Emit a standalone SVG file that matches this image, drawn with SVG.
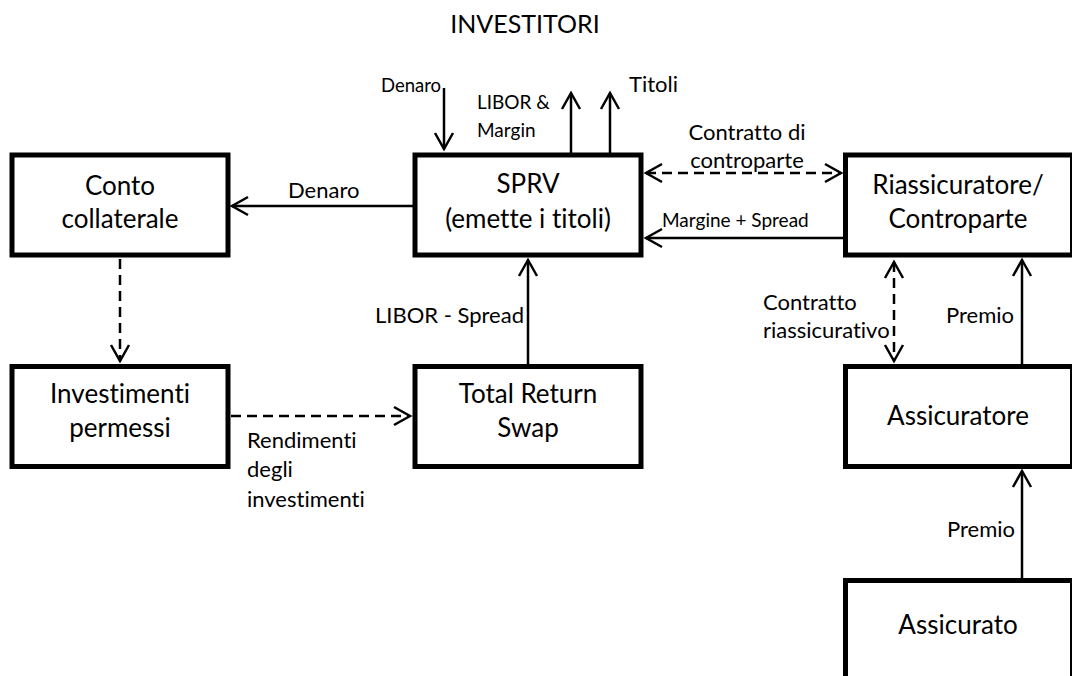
<svg xmlns="http://www.w3.org/2000/svg" width="1072" height="676" viewBox="0 0 1072 676">
<style>
.box{fill:#fff;stroke:#000;stroke-width:5}
.t{font-family:Lato,"Liberation Sans",sans-serif;fill:#000;font-variant-ligatures:none}
.big{font-size:26px;text-anchor:middle}
.ttl{font-size:25px;text-anchor:middle}
.med{font-size:22px}
.sm{font-size:19px}
.xs{font-size:18.5px}
.c{stroke:#000;stroke-width:2.5;fill:none}
.d{stroke-dasharray:10 6}
</style>
<defs>
<marker id="ah" markerUnits="userSpaceOnUse" markerWidth="30" markerHeight="30" refX="0" refY="0" viewBox="-20 -15 25 30" orient="auto-start-reverse" overflow="visible">
<path d="M-16,-9 L0,0 L-16,9" fill="none" stroke="#000" stroke-width="2.5" stroke-dasharray="none"/>
</marker>
</defs>
<text class="t ttl" x="525" y="33">INVESTITORI</text>
<g id="conto"><rect class="box" x="12" y="155" width="216" height="100"/><text class="t big" x="120" y="195">Conto</text><text class="t big" x="120" y="228">collaterale</text></g>
<g id="investimenti"><rect class="box" x="12" y="366.5" width="216" height="100"/><text class="t big" x="120" y="403">Investimenti</text><text class="t big" x="120" y="437">permessi</text></g>
<g id="sprv"><rect class="box" x="415" y="155" width="226" height="100"/><text class="t big" x="528" y="193">SPRV</text><text class="t big" x="528" y="228">(emette i titoli)</text></g>
<g id="trs"><rect class="box" x="415" y="366.5" width="226" height="100"/><text class="t big" x="528" y="403">Total Return</text><text class="t big" x="528" y="437">Swap</text></g>
<g id="riassicuratore"><rect class="box" x="845.5" y="155" width="227" height="100"/><text class="t big" x="958" y="194">Riassicuratore/</text><text class="t big" x="958" y="228">Controparte</text></g>
<g id="assicuratore"><rect class="box" x="845.5" y="366.5" width="227" height="100"/><text class="t big" x="958" y="425">Assicuratore</text></g>
<g id="assicurato"><rect class="box" x="845.5" y="580.5" width="227" height="200"/><text class="t big" x="958" y="634">Assicurato</text></g>
<g id="connectors">
<line class="c" x1="413" y1="206" x2="232" y2="206" marker-end="url(#ah)"/>
<text class="t med" x="288" y="198">Denaro</text>
<line class="c" x1="444" y1="88" x2="444" y2="149" marker-end="url(#ah)"/>
<text class="t xs" x="381" y="92">Denaro</text>
<line class="c" x1="571" y1="153" x2="571" y2="93" marker-end="url(#ah)"/>
<line class="c" x1="610" y1="153" x2="610" y2="93" marker-end="url(#ah)"/>
<text class="t sm" x="477" y="109">LIBOR &amp;</text>
<text class="t sm" x="477" y="137">Margin</text>
<text class="t med" x="629" y="92">Titoli</text>
<line class="c d" x1="646" y1="173" x2="841" y2="173" marker-start="url(#ah)" marker-end="url(#ah)"/>
<text class="t med" x="747" y="140" text-anchor="middle">Contratto di</text>
<text class="t med" x="747" y="168" text-anchor="middle">controparte</text>
<line class="c" x1="843" y1="238" x2="646" y2="238" marker-end="url(#ah)"/>
<text class="t sm" x="662" y="227">Margine + Spread</text>
<line class="c" x1="528" y1="364" x2="528" y2="260" marker-end="url(#ah)"/>
<text class="t med" x="375" y="323">LIBOR - Spread</text>
<line class="c d" x1="120" y1="259" x2="120" y2="361" marker-end="url(#ah)"/>
<line class="c d" x1="231" y1="416" x2="410" y2="416" marker-end="url(#ah)"/>
<text class="t med" x="247" y="448">Rendimenti</text>
<text class="t med" x="247" y="477">degli</text>
<text class="t med" x="247" y="507">investimenti</text>
<line class="c d" x1="894" y1="262" x2="894" y2="361" marker-start="url(#ah)" marker-end="url(#ah)"/>
<text class="t med" x="763" y="310">Contratto</text>
<text class="t med" x="763" y="338">riassicurativo</text>
<line class="c" x1="1022" y1="364" x2="1022" y2="260" marker-end="url(#ah)"/>
<text class="t med" x="946" y="323">Premio</text>
<line class="c" x1="1022" y1="578" x2="1022" y2="471" marker-end="url(#ah)"/>
<text class="t med" x="947" y="537">Premio</text>
</g>
</svg>
